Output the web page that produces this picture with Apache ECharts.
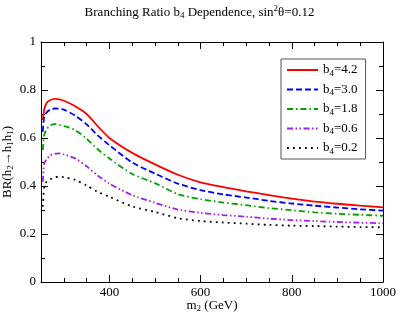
<!DOCTYPE html>
<html>
<head>
<meta charset="utf-8">
<script src="https://cdn.jsdelivr.net/npm/echarts@6/dist/echarts.min.js"></script>
<style>html,body{margin:0;padding:0;background:#fff;}#c{width:399px;height:316px;}</style>
</head>
<body>
<div id="c"></div>
<script>
var xs = [254,257,262,270,280,290,300,325,350,375,400,450,500,550,600,650,700,750,800,850,900,950,1000];
var red = [0.675,0.718,0.745,0.757,0.763,0.761,0.755,0.732,0.700,0.648,0.600,0.538,0.490,0.447,0.415,0.395,0.378,0.362,0.347,0.335,0.326,0.318,0.311];
var blue = [0.626,0.689,0.706,0.718,0.723,0.722,0.718,0.693,0.657,0.610,0.570,0.498,0.452,0.410,0.383,0.365,0.352,0.338,0.327,0.318,0.310,0.303,0.297];
var green = [0.550,0.612,0.635,0.652,0.658,0.655,0.650,0.633,0.597,0.552,0.515,0.450,0.412,0.366,0.345,0.331,0.320,0.308,0.299,0.290,0.284,0.280,0.276];
var purple = [0.418,0.494,0.510,0.527,0.534,0.536,0.532,0.515,0.482,0.443,0.410,0.362,0.330,0.302,0.288,0.279,0.272,0.264,0.258,0.254,0.250,0.247,0.245];
var black = [0.314,0.392,0.418,0.428,0.436,0.439,0.437,0.426,0.402,0.375,0.355,0.315,0.292,0.266,0.254,0.248,0.243,0.238,0.235,0.233,0.231,0.229,0.228];
var seriesNames = ['b4=4.2','b4=3.0','b4=1.8','b4=0.6','b4=0.2'];
var xMajor = [400,600,800,1000];

var FF = '"Liberation Serif","Times New Roman",serif';
function rich(fs, lh){
  var s = Math.round(fs*0.7);
  return {
    n:{fontSize:fs,fontFamily:FF,fontWeight:'normal',color:'#000',lineHeight:lh},
    sub:{fontSize:s,fontFamily:FF,fontWeight:'normal',color:'#000',lineHeight:s,padding:[7,0,0,0]},
    sup:{fontSize:s,fontFamily:FF,fontWeight:'normal',color:'#000',lineHeight:s,padding:[0,0,8,0]}
  };
}
function pairs(ys){ return xs.map(function(x,i){return [x, ys[i]];}); }

var chart = echarts.init(document.getElementById('c'), null, {renderer:'canvas'});
function xAx(pos, labels, major, withName){
  var a = {
    type:'value', position:pos, min:250, max:1000, interval:50,
    axisLine:{show:!major, lineStyle:{color:'#000', width:1}},
    splitLine:{show:false},
    axisTick:{show:true, inside:true, length: major?7:4, lineStyle:{color:'#000'}},
    axisLabel:{show:labels, fontFamily:FF, fontSize:13, color:'#000', margin:4,
      formatter:function(v){return String(v);}}
  };
  if (major) a.axisTick.customValues = xMajor;
  if (labels) a.axisLabel.customValues = xMajor;
  if (withName){
    a.name = '{n|m}{sub|2}{n| (GeV)}';
    a.nameLocation = 'middle';
    a.nameGap = 16;
    a.nameMoveOverlap = false;
    a.nameTextStyle = {rich:rich(13,15)};
  }
  return a;
}
function yAx(pos, labels){
  var a = {
    type:'value', position:pos, min:0, max:1, interval:0.2,
    axisLine:{show:true, lineStyle:{color:'#000', width:1}},
    splitLine:{show:false},
    axisTick:{show:true, inside:true, length:7, lineStyle:{color:'#000'}},
    minorTick:{show:true, splitNumber:2, length:4, lineStyle:{color:'#000'}},
    minorSplitLine:{show:false},
    axisLabel:{show:labels, fontFamily:FF, fontSize:13, color:'#000', margin:5}
  };
  if (labels){
    a.name = '{n|BR(h}{sub|2}{n|→h}{sub|1}{n|h}{sub|1}{n|)}';
    a.nameLocation = 'middle';
    a.nameGap = 26;
    a.nameMoveOverlap = false;
    a.nameTextStyle = {rich:rich(13,15)};
  }
  return a;
}
var styles = [
  {color:'#ff0000', type:'solid'},
  {color:'#0000ff', type:[6,3]},
  {color:'#00a000', type:[6,3,1.5,3]},
  {color:'#a020f0', type:[6,2.5,1.5,2.5,1.5,2.5]},
  {color:'#000000', type:[1.8,4.2]}
];
var datas = [red, blue, green, purple, black];
var series = datas.map(function(d,i){
  return {
    name: seriesNames[i], type:'line', xAxisIndex:0, yAxisIndex:0,
    data: pairs(d), symbol:'none', smooth:0.25,
    lineStyle:{color:styles[i].color, type:styles[i].type, width:1.8},
    itemStyle:{color:styles[i].color}
  };
});
chart.setOption({
  backgroundColor:'#fff',
  animation:false,
  title:{
    text:'{n|Branching Ratio b}{sub|4}{n| Dependence, sin}{sup|2}{n|θ=0.12}',
    left:'center', top:0,
    textStyle:{fontWeight:'normal', rich:rich(13,15)}
  },
  grid:{left:41, right:16, top:42, bottom:34, containLabel:false, outerBoundsMode:'none'},
  legend:{
    orient:'vertical', left:281, top:59, width:83,
    padding:[3,8,3,5], itemGap:3.5, itemWidth:31, itemHeight:14,
    borderColor:'#555', borderWidth:1, backgroundColor:'#fff', borderRadius:0,
    itemStyle:{opacity:0, borderWidth:0},
    data: seriesNames,
    formatter:function(name){ var p = name.split('='); return '{n|b}{sub|4}{n|=' + p[1] + '}'; },
    textStyle:{rich:rich(13,13)}
  },
  xAxis:[xAx('bottom',true,false,true), xAx('bottom',false,true,false), xAx('top',false,false,false), xAx('top',false,true,false)],
  yAxis:[yAx('left',true), yAx('right',false)],
  series: series
});
</script>
</body>
</html>
